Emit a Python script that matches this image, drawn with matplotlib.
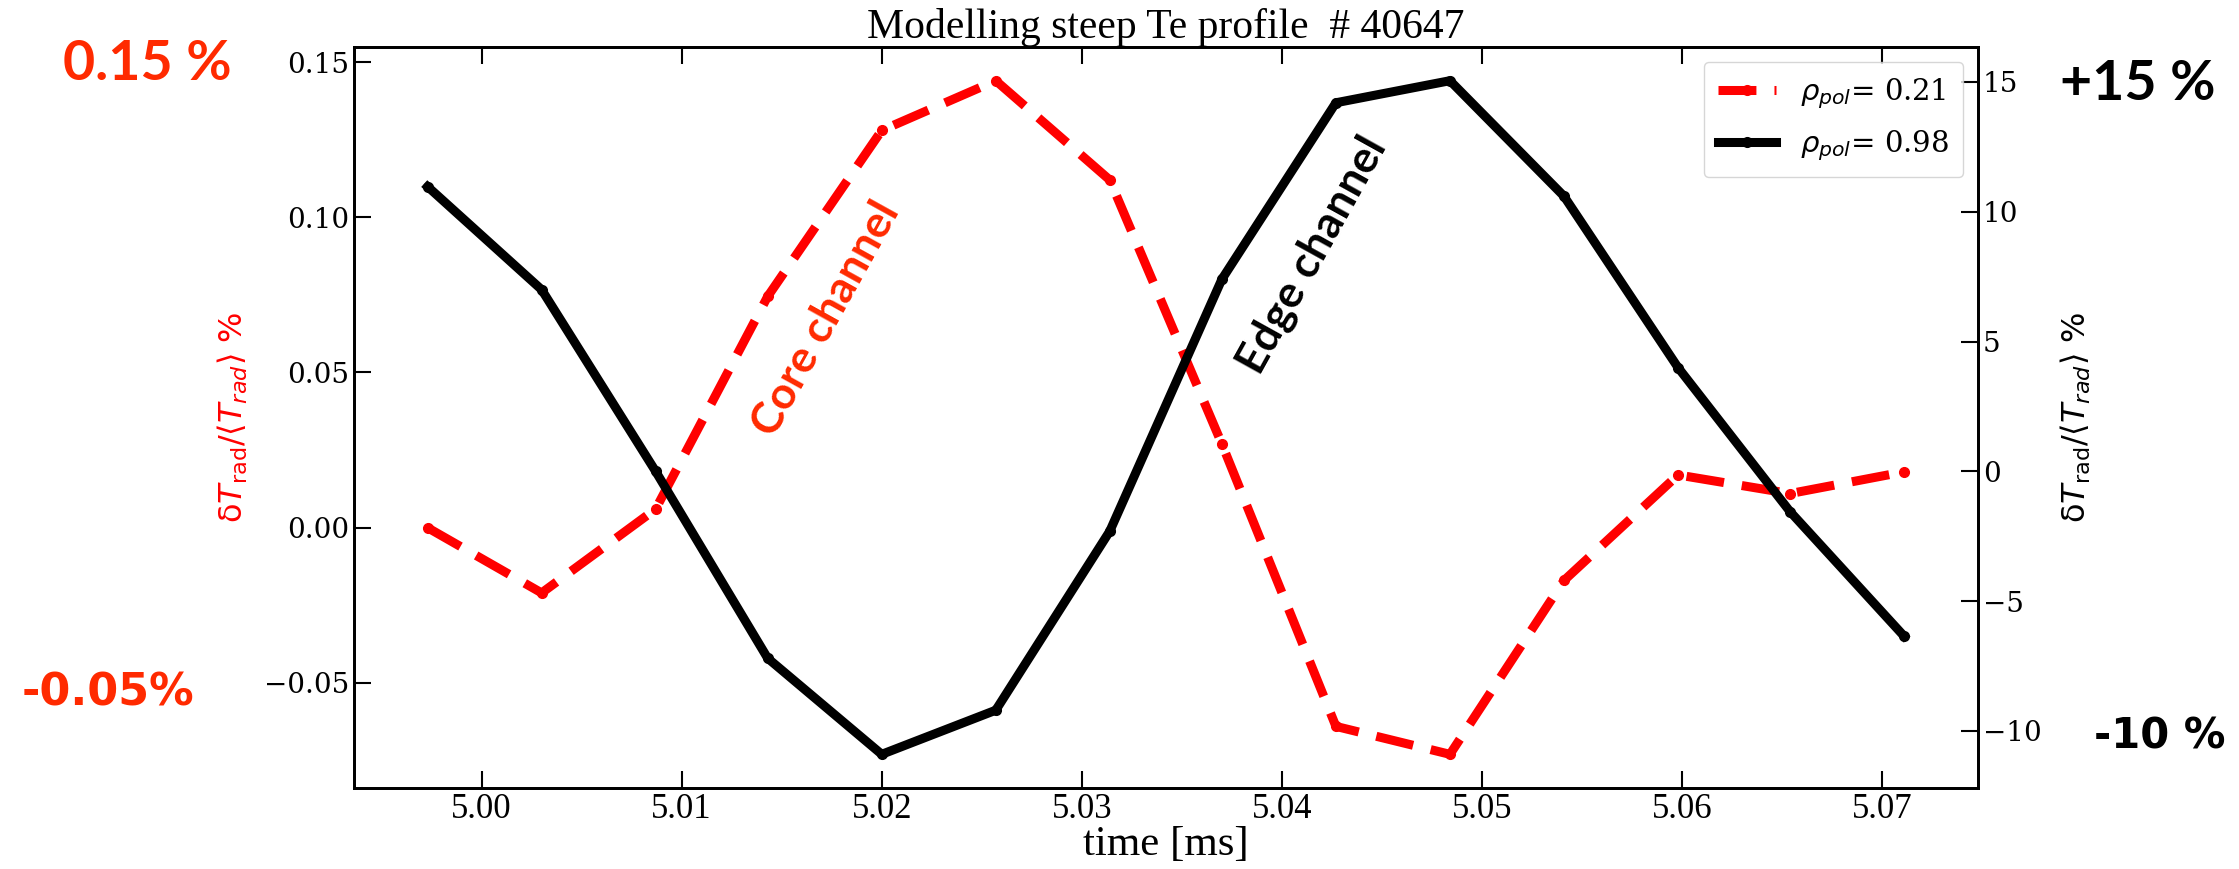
import matplotlib.pyplot as plt

# time axis of the synthetic ECE channels
time_ms = [4.9973, 5.0030, 5.0087, 5.0143, 5.0200, 5.0257, 5.0314,
           5.0370, 5.0427, 5.0484, 5.0541, 5.0598, 5.0654, 5.0711]
# core channel, rho_pol = 0.21 (left axis)
core_dT = [0.000, -0.021, 0.006, 0.0745, 0.128, 0.144, 0.112,
           0.027, -0.064, -0.073, -0.017, 0.017, 0.011, 0.018]
# edge channel, rho_pol = 0.98 (right axis)
edge_dT = [10.97, 7.0, 0.0, -7.2, -10.9, -9.2, -2.3,
           7.4, 14.2, 15.05, 10.6, 4.0, -1.55, -6.35]

core_label = r'$\rho_{pol}$= 0.21'
edge_label = r'$\rho_{pol}$= 0.98'
ylab = r'δ$T_{\rm rad}/\langle T_{rad}\rangle$ %'

fig, ax = plt.subplots(figsize=(22.39, 8.69), dpi=100)
fig.subplots_adjust(left=0.158, right=0.8834, bottom=0.0932, top=0.9459)

l1, = ax.plot(time_ms, core_dT, color='red', ls='--', dashes=(4.2, 2.0), lw=6.5,
              marker='o', ms=7, label=core_label)
ax2 = ax.twinx()
l2, = ax2.plot(time_ms, edge_dT, color='black', lw=6.5, marker='o', ms=7,
               label=edge_label)

ax.set_xticks([5.00, 5.01, 5.02, 5.03, 5.04, 5.05, 5.06, 5.07])
ax.set_yticks([-0.05, 0.00, 0.05, 0.10, 0.15])
ax2.set_yticks([-10, -5, 0, 5, 10, 15])

for a in (ax, ax2):
    a.tick_params(direction='in', length=12, width=1.5)
    for s in a.spines.values():
        s.set_linewidth(2)
ax.tick_params(axis='x', top=True)

for lab in ax.get_xticklabels():
    lab.set_fontfamily('Liberation Serif')
    lab.set_fontsize(25)
for lab in ax.get_yticklabels() + ax2.get_yticklabels():
    lab.set_fontfamily('DejaVu Serif')
    lab.set_fontsize(20)

ax.set_xlabel('time [ms]', fontsize=31, family='Liberation Serif', labelpad=0)
ax.set_ylabel(ylab, color='red', fontsize=23, labelpad=10)
ax2.set_ylabel(ylab, color='black', fontsize=23, labelpad=12)
ax.set_title('Modelling steep Te profile  # 40647', fontsize=30,
             family='Liberation Serif', pad=4)

leg = ax2.legend(handles=[l1, l2], loc='upper right',
                 prop={'family': 'DejaVu Serif', 'size': 21},
                 handlelength=2.0, borderpad=0.5, labelspacing=0.6)

# slide annotations
fig.text(0.066, 0.926, '0.15 %', color='#ff2a00', fontsize=40,
         family='Lato', weight='bold', ha='center', va='center')
fig.text(0.048, 0.203, '-0.05%', color='#ff2a00', fontsize=32,
         family='DejaVu Sans', weight='bold', ha='center', va='center')
fig.text(0.955, 0.903, '+15 %', color='black', fontsize=40,
         family='Lato', weight='bold', ha='center', va='center')
fig.text(0.9645, 0.153, '-10 %', color='black', fontsize=30,
         family='DejaVu Sans', weight='bold', ha='center', va='center')
fig.text(0.369, 0.633, 'Core channel', color='#ff2a00', fontsize=32,
         family='Lato', weight='bold', rotation=61, ha='center', va='center')
fig.text(0.586, 0.706, 'Edge channel', color='black', fontsize=32,
         family='Lato', weight='bold', rotation=61, ha='center', va='center')

plt.savefig('out.png', dpi=100)
